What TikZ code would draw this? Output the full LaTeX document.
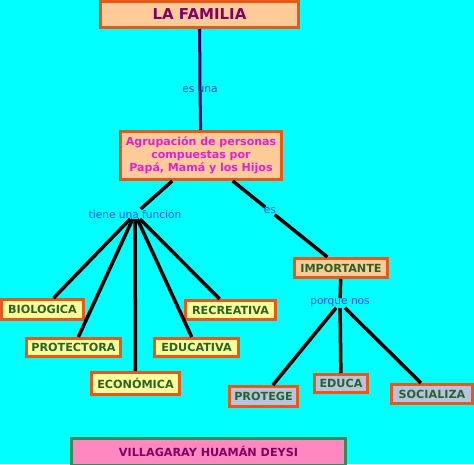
\documentclass[tikz,border=0pt]{standalone}
\usepackage{fontspec}
\setmainfont{DejaVu Sans}
\definecolor{bgcyan}{RGB}{0,255,255}
\definecolor{orfill}{RGB}{255,204,153}
\definecolor{orbord}{RGB}{232,88,24}
\definecolor{yefill}{RGB}{255,255,153}
\definecolor{blfill}{RGB}{184,196,222}
\definecolor{txgreen}{RGB}{40,100,40}
\definecolor{txpurple}{RGB}{128,0,100}
\definecolor{txmag}{RGB}{230,30,210}
\definecolor{lblblue}{RGB}{20,80,255}
\definecolor{pkfill}{RGB}{255,136,192}
\definecolor{gnbord}{RGB}{50,140,90}
\definecolor{navy}{RGB}{0,0,100}
\definecolor{esblue}{RGB}{30,70,170}
\tikzset{
  box/.style={draw=orbord, line width=3pt, inner sep=1pt, align=center, font=\bfseries\fontsize{11.2}{13}\selectfont, text=txgreen},
  obox/.style={box, fill=orfill},
  ybox/.style={box, fill=yefill},
  bbox/.style={box, fill=blfill},
  lbl/.style={inner sep=0.5pt, text=lblblue, font=\fontsize{10.6}{12}\selectfont},
  conn/.style={line width=3.5pt, black},
}
\begin{document}
\begin{tikzpicture}[x=1pt,y=-1pt]
\fill[bgcyan] (0,0) rectangle (474,464);
\useasboundingbox (0,0) rectangle (474,464);
% nodes
\node[obox, minimum width=198pt, minimum height=26pt, text=txpurple, font=\bfseries\fontsize{15}{17}\selectfont] (fam) at (199.5,14.5) {LA FAMILIA};
\node[obox, minimum width=161pt, minimum height=48pt, text=txmag, font=\bfseries\fontsize{11}{13}\selectfont] (agr) at (201,155.5) {Agrupación de personas\\compuestas por\\Papá, Mamá y los Hijos};
\coordinate (mid) at (200,90);
\draw[line width=3pt, navy] (fam) -- (mid) -- (agr);
\node[lbl, text=esblue] (esuna) at (200,90) {es una};
\node[lbl] (tf) at (135,214) {tiene una función};
\node[lbl] (es) at (270,211) {es};
\node[obox, minimum width=93pt, minimum height=19pt] (imp) at (341,268) {IMPORTANTE};
\node[lbl] (pn) at (340,303) {porque nos};
\node[ybox, minimum width=82pt, minimum height=20pt] (bio) at (42.5,309.5) {BIOLOGICA};
\node[ybox, minimum width=90pt, minimum height=19pt] (rec) at (230.5,310) {RECREATIVA};
\node[ybox, minimum width=94pt, minimum height=18pt] (pro) at (73.5,347.5) {PROTECTORA};
\node[ybox, minimum width=84pt, minimum height=18pt] (edu) at (196.5,347.5) {EDUCATIVA};
\node[ybox, minimum width=88pt, minimum height=22pt] (eco) at (135.5,383.5) {ECONÓMICA};
\node[bbox, minimum width=68pt, minimum height=20pt] (prot) at (263.5,396.5) {PROTEGE};
\node[bbox, minimum width=53pt, minimum height=18pt] (educa) at (341,383.5) {EDUCA};
\node[bbox, minimum width=81pt, minimum height=19pt] (soc) at (432,394) {SOCIALIZA};
\node[box, draw=gnbord, fill=pkfill, text=txpurple, minimum width=274pt, minimum height=27pt] (vil) at (208.5,451.5) {VILLAGARAY HUAMÁN DEYSI};
% connectors
\draw[conn] (agr) -- (tf);
\draw[conn] (agr) -- (es) -- (imp);
\draw[conn] (tf) -- (bio);
\draw[conn] (tf) -- (pro);
\draw[conn] (tf) -- (eco);
\draw[conn] (tf) -- (edu);
\draw[conn] (tf) -- (rec);
\draw[conn] (imp) -- (pn);
\draw[conn] (pn) -- (prot);
\draw[conn] (pn) -- (educa);
\draw[conn] (pn) -- (soc);
\end{tikzpicture}
\end{document}
